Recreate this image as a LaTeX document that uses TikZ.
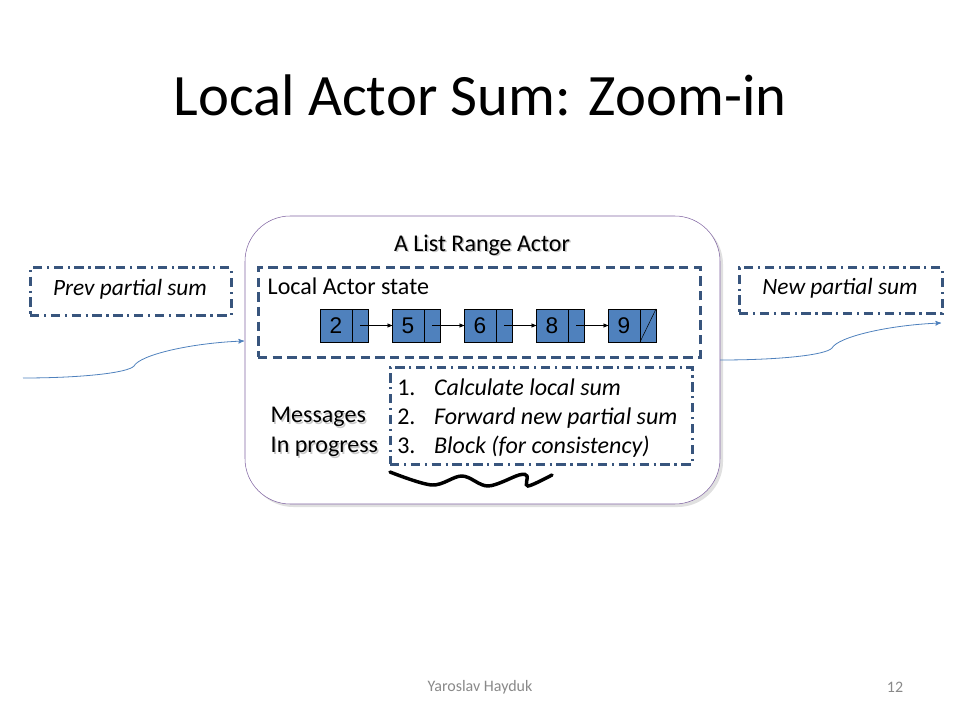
\documentclass[tikz,border=0pt]{standalone}
\usepackage{fontspec}
\setmainfont{Carlito}
\newfontfamily\cellfont{Liberation Sans}
\usepackage{tikz}
\usetikzlibrary{calc,positioning,arrows,fit,shapes}
\definecolor{boxblue}{RGB}{56,85,125}
\definecolor{cellblue}{RGB}{79,129,189}
\definecolor{actorline}{RGB}{128,100,162}
\definecolor{footgray}{RGB}{137,137,137}
\tikzset{
>=stealth',
  dashbox/.style={
    draw=boxblue, line width=2.25pt,
    dash pattern=on 7pt off 4pt,
    inner sep=0pt},
  dotdashbox/.style={
    draw=boxblue, line width=2.25pt,
    dash pattern=on 7pt off 3.5pt on 1.6pt off 3.5pt,
    inner sep=0pt},
  valcell/.style={
    rectangle, draw=black, thin,
    fill=cellblue,
    minimum width=24pt, minimum height=24.75pt,
    inner sep=0pt, outer sep=0pt,
    font=\cellfont\fontsize{17}{19}\selectfont},
  ptrcell/.style={valcell, minimum width=12pt},
  link/.style={draw, thin, ->},
  feed/.style={draw=cellblue, semithick, ->},
  bodytext/.style={font=\fontsize{18}{22.5}\selectfont},
  sumtext/.style={font=\fontsize{17.5}{21}\selectfont\itshape},
  shadowtext/.style={text=black!35, opacity=0.6},
}

\begin{document}
\begin{tikzpicture}[x=0.75pt,y=-0.75pt]
  \useasboundingbox (0,0) rectangle (960,720);

  \node (title) at (480,95) {\fontsize{44}{50}\selectfont Local Actor Sum: Zoom-in};

  % the actor
  \fill[black!12, rounded corners=34pt] (248,219) rectangle (723,507);
  \node[draw=actorline, fill=white, thin, rounded corners=34pt, inner sep=0pt,
    fit={(245,216) (720,504)}] (actor) {};
  \node[bodytext, shadowtext] at (483.5,246.5) {A List Range Actor};
  \node[bodytext] (actorlabel) at (482,245) {A List Range Actor};

  % local state
  \node[dashbox, fit={(258,268) (700,357)}] (statebox) {};
  \node[bodytext, anchor=west] (statelabel) at (263,286) {Local Actor state};

  \node[valcell] (v2) at (336,325.5) {2};
  \node[ptrcell, right=0pt of v2] (p2) {};
  \node[valcell, right=18pt of p2] (v5) {5};
  \node[ptrcell, right=0pt of v5] (p5) {};
  \node[valcell, right=18pt of p5] (v6) {6};
  \node[ptrcell, right=0pt of v6] (p6) {};
  \node[valcell, right=18pt of p6] (v8) {8};
  \node[ptrcell, right=0pt of v8] (p8) {};
  \node[valcell, right=18pt of p8] (v9) {9};
  \node[ptrcell, right=0pt of v9] (p9) {};
  \draw[thin] (p9.south west) -- (p9.north east);

  \path[link] (p2.center) -- (v5.west);
  \path[link] (p5.center) -- (v6.west);
  \path[link] (p6.center) -- (v8.west);
  \path[link] (p8.center) -- (v9.west);

  % partial sums
  \node[dotdashbox, fit={(30,268) (231,315)}] (prevbox) {};
  \node[sumtext] (prevlabel) at (130,289) {Prev partial sum};
  \node[dotdashbox, fit={(739,268) (942,313)}] (newbox) {};
  \node[sumtext] (newlabel) at (840,288) {New partial sum};

  \coordinate (previn) at (23,378);
  \coordinate (actorin) at (244,341);
  \coordinate (actorout) at (720,360);
  \coordinate (newout) at (941,323);
  \path[feed] (previn) .. controls (80,378) and (128,373) .. (134,366)
    .. controls (140,355) and (190,343) .. (actorin);
  \path[feed] (actorout) .. controls (780,360) and (826,355) .. (832,348)
    .. controls (838,337) and (888,325) .. (newout);

  % messages
  \node[dotdashbox, fit={(390,367) (692,464)}] (msgbox) {};
  \node[anchor=west, inner sep=0pt] (msgitems) at (397,419) {\fontsize{18}{21.75}\selectfont
    \begin{tabular}{@{}l@{\hspace{14pt}}l@{}}
      1. & \itshape Calculate local sum\\
      2. & \itshape Forward new partial sum\\
      3. & \itshape Block (for consistency)
    \end{tabular}};
  \node[bodytext, shadowtext, anchor=west, align=left] at (267.5,433.5)
    {Messages\\In progress};
  \node[bodytext, anchor=west, align=left] (msglabel) at (266,432)
    {Messages\\In progress};
  \draw[line width=2.6pt, line cap=round] plot[smooth, tension=0.55] coordinates
    {(390,472) (432,485) (462,476) (488,486) (519,475) (527,476) (528,486) (552,475)};

  % footer
  \node[text=footgray] (author) at (480,687) {\fontsize{12}{14}\selectfont Yaroslav Hayduk};
  \node[text=footgray] (page) at (895,687) {\fontsize{12}{14}\selectfont 12};
\end{tikzpicture}
\end{document}
